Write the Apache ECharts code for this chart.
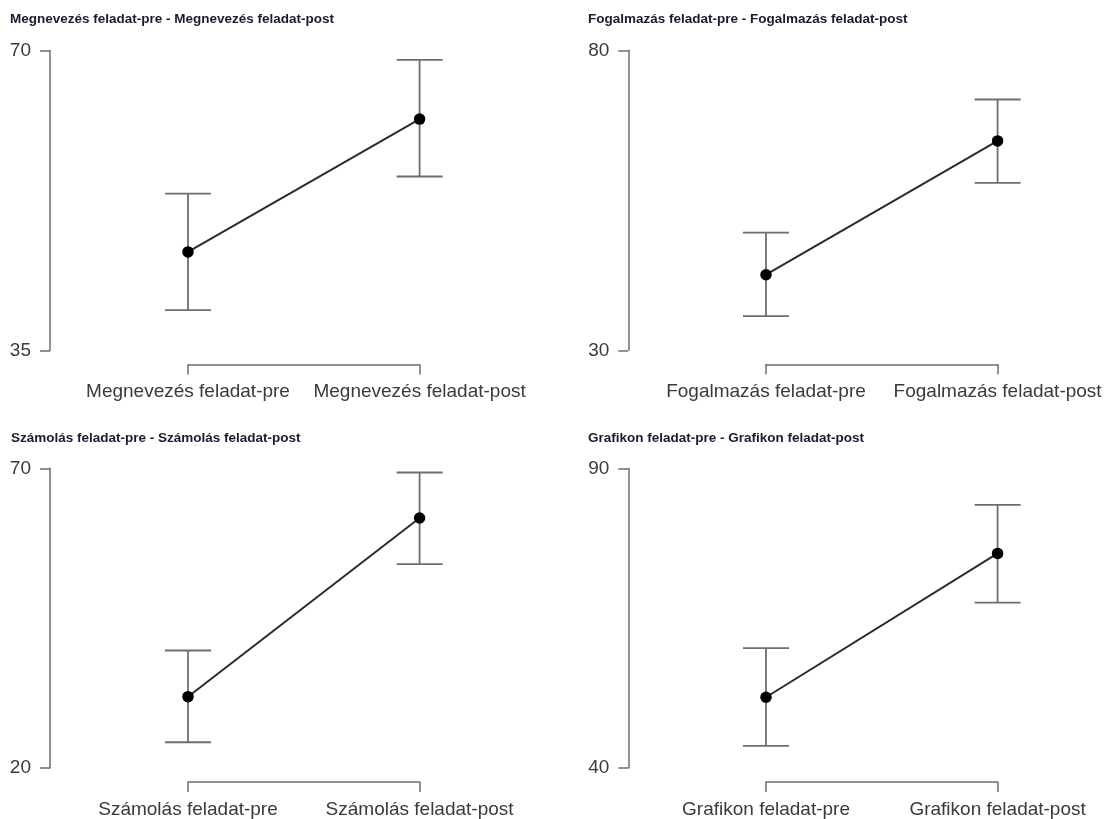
<!DOCTYPE html>
<html>
<head>
<meta charset="utf-8">
<script src="https://cdn.jsdelivr.net/npm/echarts@6/dist/echarts.min.js"></script>
<style>
  html, body { margin: 0; padding: 0; background: #ffffff; }
  #chart { width: 1105px; height: 819px; }
</style>
</head>
<body>
<div id="chart"></div>
<script>
// ---- Data ----
const panelTitles = [
  'Megnevezés feladat-pre - Megnevezés feladat-post',
  'Fogalmazás feladat-pre - Fogalmazás feladat-post',
  'Számolás feladat-pre - Számolás feladat-post',
  'Grafikon feladat-pre - Grafikon feladat-post'
];
const categories1 = ['Megnevezés feladat-pre', 'Megnevezés feladat-post'];
const categories2 = ['Fogalmazás feladat-pre', 'Fogalmazás feladat-post'];
const categories3 = ['Számolás feladat-pre', 'Számolás feladat-post'];
const categories4 = ['Grafikon feladat-pre', 'Grafikon feladat-post'];

const means1 = [46.5, 62.0];
const means2 = [42.6, 64.9];
const means3 = [31.9, 61.7];
const means4 = [51.8, 75.8];

const lower1 = [39.7, 55.3];
const lower2 = [35.7, 57.9];
const lower3 = [24.3, 54.0];
const lower4 = [43.7, 67.6];

const upper1 = [53.3, 68.9];
const upper2 = [49.6, 71.8];
const upper3 = [39.6, 69.3];
const upper4 = [60.0, 83.9];

const yTicks1 = [35, 70];
const yTicks2 = [30, 80];
const yTicks3 = [20, 70];
const yTicks4 = [40, 90];

// ---- Assemble ----
const categories = [categories1, categories2, categories3, categories4];
const means = [means1, means2, means3, means4];
const lowers = [lower1, lower2, lower3, lower4];
const uppers = [upper1, upper2, upper3, upper4];
const yTicks = [yTicks1, yTicks2, yTicks3, yTicks4];

// layout (pixels)
const layout = [
  { left: 188, top: 50.5, titleLeft: 10, titleTop: 12.5, axisX: 50 },
  { left: 766, top: 50.3, titleLeft: 588, titleTop: 12.5, axisX: 628.3 },
  { left: 188, top: 468.3, titleLeft: 11, titleTop: 431.5, axisX: 50 },
  { left: 766, top: 468.3, titleLeft: 588, titleTop: 431.5, axisX: 628.3 }
];
const gridW = 231.6, gridH = 300;
const axisColor = '#6e6e6e';
const labelColor = '#3a3a3a';
const fontFam = '"Liberation Sans", Arial, sans-serif';

const option = {
  backgroundColor: '#ffffff',
  animation: false,
  title: [], grid: [], xAxis: [], yAxis: [], series: []
};

for (let i = 0; i < 4; i++) {
  const L = layout[i];
  option.title.push({
    text: panelTitles[i],
    left: L.titleLeft, top: L.titleTop, padding: 0,
    textStyle: { fontFamily: fontFam, fontSize: 13.5, fontWeight: 'bold', color: '#1a1a33', lineHeight: 14 }
  });
  option.grid.push({ left: L.left, top: L.top, width: gridW, height: gridH, containLabel: false });
  option.xAxis.push({
    type: 'category', gridIndex: i, data: categories[i], boundaryGap: false,
    position: 'bottom', offset: 14,
    axisLine: { show: true, lineStyle: { color: axisColor, width: 1.5 } },
    axisTick: { show: true, length: 10, inside: false, alignWithLabel: true, lineStyle: { color: axisColor, width: 1.5 } },
    axisLabel: { show: true, margin: 18, fontFamily: fontFam, fontSize: 19, color: labelColor, interval: 0 },
    splitLine: { show: false }
  });
  option.yAxis.push({
    type: 'value', gridIndex: i, min: yTicks[i][0], max: yTicks[i][1],
    position: 'left', offset: L.left - L.axisX,
    axisLine: { show: true, lineStyle: { color: axisColor, width: 1.5 } },
    axisTick: { show: true, length: 10, inside: false, customValues: yTicks[i], lineStyle: { color: axisColor, width: 1.5 } },
    axisLabel: { show: true, margin: 19, customValues: yTicks[i], fontFamily: fontFam, fontSize: 19, color: labelColor },
    splitLine: { show: false }
  });
  const errData = means[i].map((m, k) => [k, lowers[i][k], uppers[i][k]]);
  option.series.push({
    type: 'custom', xAxisIndex: i, yAxisIndex: i, z: 2, clip: false,
    data: errData,
    encode: { x: 0, y: [1, 2] },
    renderItem: function (params, api) {
      const x = api.value(0);
      const pLo = api.coord([x, api.value(1)]);
      const pHi = api.coord([x, api.value(2)]);
      const hw = 23;
      const st = { stroke: axisColor, lineWidth: 1.8 };
      return {
        type: 'group',
        children: [
          { type: 'line', shape: { x1: pLo[0], y1: pLo[1], x2: pHi[0], y2: pHi[1] }, style: st },
          { type: 'line', shape: { x1: pLo[0] - hw, y1: pLo[1], x2: pLo[0] + hw, y2: pLo[1] }, style: st },
          { type: 'line', shape: { x1: pHi[0] - hw, y1: pHi[1], x2: pHi[0] + hw, y2: pHi[1] }, style: st }
        ]
      };
    }
  });
  option.series.push({
    type: 'line', xAxisIndex: i, yAxisIndex: i, z: 5, clip: false,
    data: means[i],
    symbol: 'circle', symbolSize: 11.5,
    itemStyle: { color: '#000000' },
    lineStyle: { color: '#2b2b2b', width: 2 },
    emphasis: { disabled: true }
  });
}

const chart = echarts.init(document.getElementById('chart'), null, { renderer: 'canvas' });
chart.setOption(option);
</script>
</body>
</html>
